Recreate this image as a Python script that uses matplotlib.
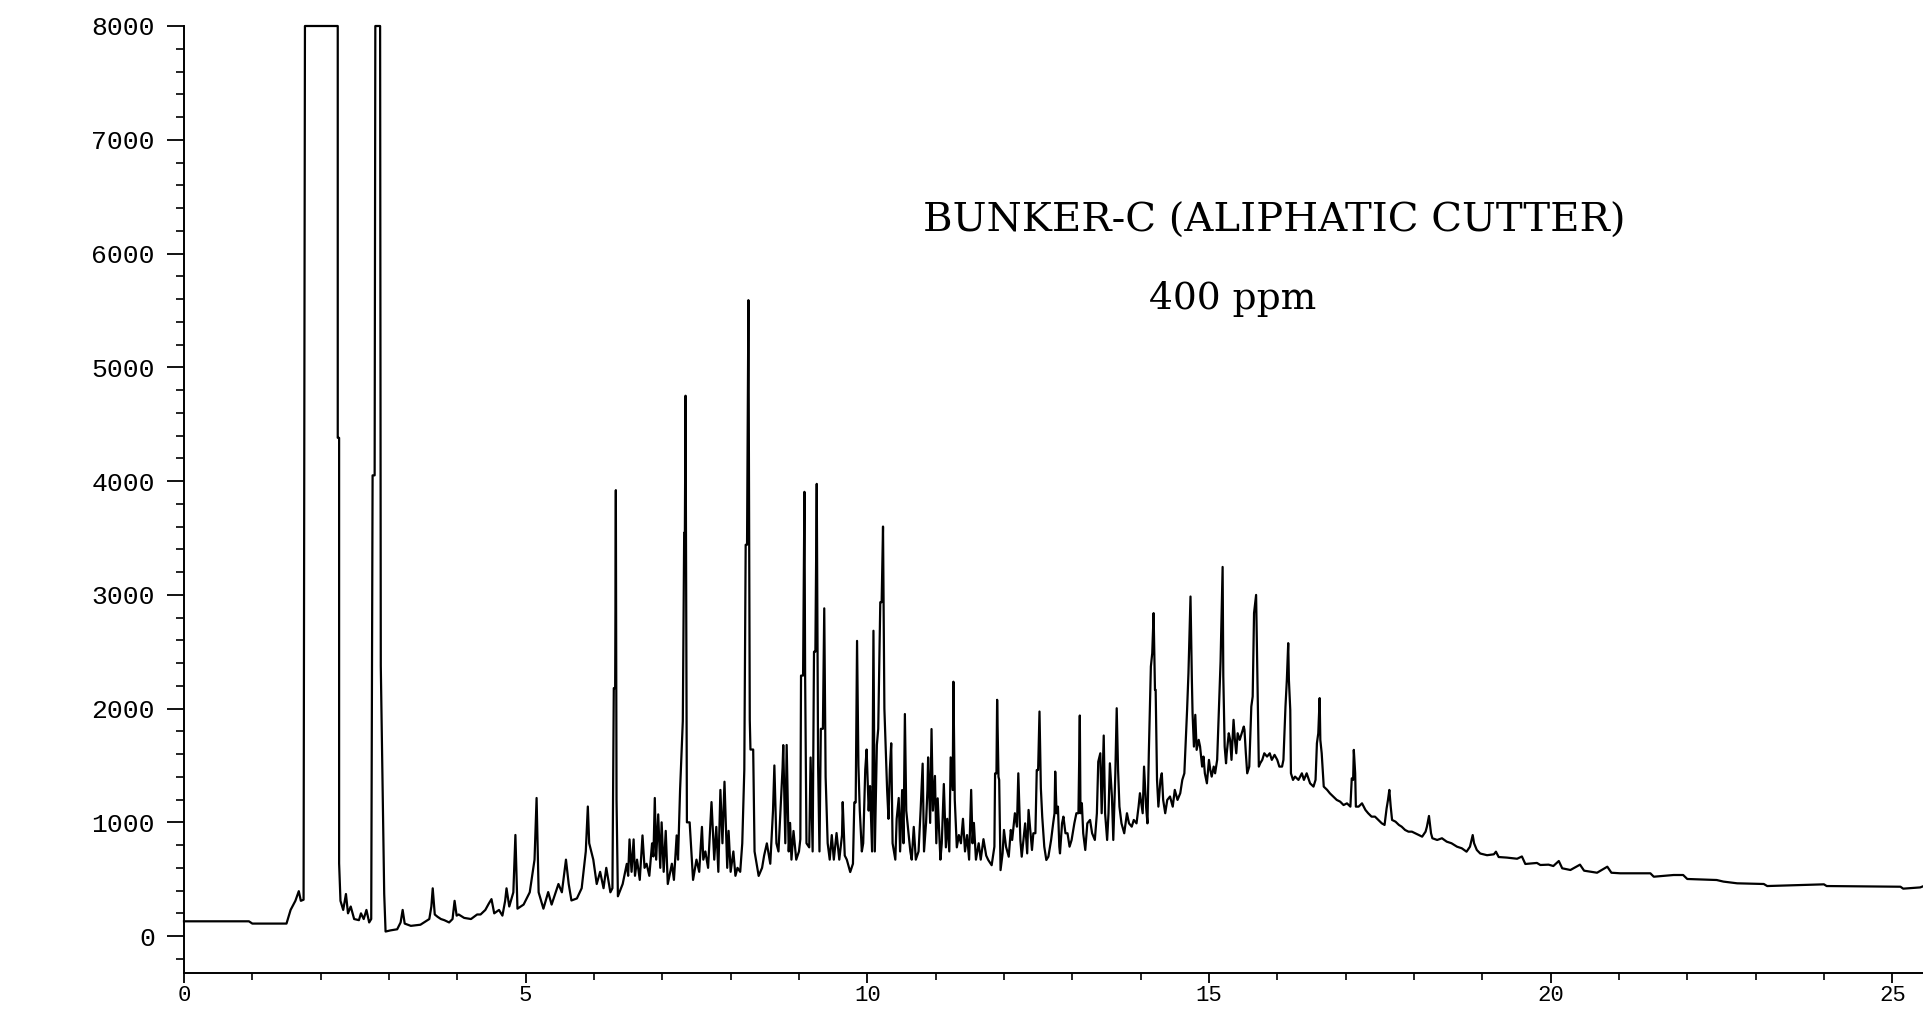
import numpy as np
import matplotlib
matplotlib.use("Agg")
import matplotlib.pyplot as plt
from matplotlib.ticker import MultipleLocator

plt.rcParams['font.family'] = ['Liberation Mono', 'DejaVu Sans']

## trace: (retention time [min], response) ##

# solvent block, clipped at full scale
seg_solvent = [(0.00, 130), (0.95, 130), (1.00, 110), (1.50, 110), (1.56, 230), (1.63, 310),
               (1.68, 395), (1.71, 310), (1.75, 320), (1.77, 8000), (2.25, 8000), (2.25, 4380),
               (2.27, 4380), (2.27, 640), (2.29, 310), (2.33, 230), (2.37, 370), (2.40, 200),
               (2.44, 260), (2.49, 150), (2.56, 140), (2.59, 200), (2.63, 150), (2.67, 230),
               (2.71, 120), (2.74, 150), (2.76, 4050), (2.79, 4050), (2.80, 8000), (2.87, 8000),
               (2.88, 2375), (2.90, 1580), (2.93, 370), (2.95, 40)]

seg_early = [(3.02, 50), (3.12, 60), (3.17, 120), (3.20, 230), (3.23, 110), (3.32, 90),
             (3.46, 100), (3.59, 150), (3.62, 260), (3.64, 420), (3.67, 190), (3.71, 170),
             (3.76, 150), (3.81, 140), (3.88, 120), (3.93, 150), (3.96, 310), (3.99, 180),
             (4.02, 190), (4.10, 160), (4.20, 150), (4.29, 190), (4.34, 190), (4.41, 230),
             (4.46, 285), (4.50, 325), (4.54, 200), (4.61, 230), (4.66, 180), (4.70, 310),
             (4.72, 420), (4.76, 260), (4.82, 385)]

seg_c1 = [(4.85, 889), (4.88, 241), (4.97, 277), (5.06, 385), (5.13, 672), (5.16, 1214),
          (5.19, 385), (5.26, 241), (5.33, 387), (5.38, 277), (5.48, 458), (5.53, 385),
          (5.59, 672), (5.63, 458), (5.67, 313), (5.75, 331), (5.82, 421), (5.88, 744),
          (5.91, 1139), (5.93, 816), (5.99, 672), (6.04, 458), (6.09, 565), (6.14, 421),
          (6.18, 600), (6.24, 385), (6.27, 421), (6.29, 2180), (6.31, 2180), (6.32, 3920),
          (6.33, 1200), (6.35, 350)]

seg_c2 = [(6.42, 458), (6.48, 635), (6.50, 530), (6.52, 850), (6.55, 565), (6.58, 850),
          (6.60, 530), (6.63, 672), (6.67, 494), (6.71, 885), (6.74, 600), (6.77, 636),
          (6.81, 530), (6.85, 815), (6.87, 700), (6.89, 1214), (6.91, 672), (6.94, 1070),
          (6.97, 600), (6.99, 1000), (7.02, 565), (7.05, 925), (7.08, 458), (7.14, 636),
          (7.17, 494), (7.21, 885), (7.23, 672), (7.26, 1285), (7.30, 1890), (7.32, 3546),
          (7.33, 3546), (7.34, 4750), (7.36, 1000), (7.40, 1000), (7.45, 494), (7.50, 672),
          (7.54, 565), (7.58, 960), (7.60, 672), (7.63, 744), (7.67, 600), (7.72, 1178),
          (7.76, 672), (7.79, 960), (7.82, 565), (7.85, 1285), (7.88, 816), (7.91, 1357),
          (7.95, 600), (7.97, 925), (8.00, 565), (8.04, 744), (8.07, 530), (8.10, 600),
          (8.14, 565), (8.17, 815), (8.20, 1463), (8.22, 3440), (8.24, 3440), (8.26, 5590),
          (8.28, 1900), (8.29, 1640), (8.33, 1640), (8.35, 744)]

seg_c3 = [(8.37, 672), (8.41, 529), (8.46, 600), (8.49, 708), (8.53, 815), (8.58, 636),
          (8.62, 1103), (8.64, 1500), (8.67, 816), (8.70, 744), (8.72, 995), (8.76, 1480),
          (8.77, 1679), (8.80, 816), (8.82, 1680), (8.85, 744), (8.87, 995), (8.89, 672),
          (8.92, 924), (8.96, 672), (9.00, 744), (9.02, 852), (9.03, 2290), (9.06, 2290),
          (9.08, 3905), (9.09, 2300), (9.11, 816), (9.15, 780), (9.17, 1570), (9.20, 744),
          (9.22, 2500), (9.24, 2500), (9.26, 3975), (9.28, 1500), (9.30, 744), (9.32, 1822),
          (9.35, 1822), (9.37, 2881), (9.39, 1400), (9.42, 816), (9.45, 672), (9.48, 888),
          (9.51, 672), (9.55, 906), (9.59, 672), (9.63, 888), (9.64, 1178), (9.67, 708),
          (9.70, 672), (9.75, 563), (9.79, 636), (9.81, 1175), (9.83, 1175), (9.85, 2595),
          (9.87, 1500), (9.89, 1103), (9.92, 744), (9.94, 816), (9.97, 1463), (9.99, 1640),
          (10.02, 1103), (10.04, 1319), (10.07, 744), (10.09, 2684), (10.11, 744), (10.14, 1680),
          (10.16, 1822), (10.19, 2935), (10.21, 2935), (10.23, 3600), (10.25, 2000), (10.26, 1822),
          (10.29, 1284), (10.31, 1031)]

seg_c4 = [(10.33, 1463), (10.35, 1695), (10.37, 816), (10.41, 672), (10.43, 1031), (10.46, 1214),
          (10.48, 744), (10.51, 1284), (10.53, 816), (10.55, 1952), (10.57, 1103), (10.60, 924),
          (10.63, 744), (10.65, 672), (10.68, 960), (10.71, 672), (10.75, 744), (10.78, 1103),
          (10.81, 1516), (10.83, 744), (10.86, 995), (10.88, 1284), (10.89, 1571), (10.92, 995),
          (10.94, 1820), (10.96, 1103), (10.99, 1408), (11.01, 816), (11.03, 1211), (11.07, 672),
          (11.09, 816), (11.12, 1337), (11.15, 780), (11.17, 1031), (11.20, 744), (11.22, 1571),
          (11.25, 1284), (11.26, 2236), (11.28, 1200), (11.31, 780), (11.34, 888), (11.37, 816),
          (11.40, 1031), (11.43, 744), (11.46, 888), (11.49, 672), (11.52, 1285), (11.54, 816),
          (11.56, 995), (11.59, 672), (11.63, 816), (11.66, 672), (11.70, 852), (11.74, 708),
          (11.77, 669), (11.82, 623), (11.86, 786), (11.87, 1430), (11.89, 1430), (11.90, 2077),
          (11.92, 1400), (11.93, 1373), (11.95, 580)]

seg_c5 = [(11.98, 727), (12.00, 933), (12.03, 786), (12.07, 698), (12.10, 933), (12.12, 845),
          (12.16, 1080), (12.19, 962), (12.21, 1431), (12.24, 845), (12.26, 698), (12.29, 874),
          (12.31, 991), (12.34, 727), (12.36, 1109), (12.39, 904), (12.41, 757), (12.43, 904),
          (12.46, 904), (12.48, 1460), (12.50, 1460), (12.52, 1974), (12.54, 1300), (12.56, 1050),
          (12.59, 786), (12.62, 669), (12.65, 698), (12.69, 845), (12.72, 991), (12.74, 1080),
          (12.75, 1446), (12.77, 1080), (12.79, 1138), (12.81, 786), (12.82, 727), (12.85, 991),
          (12.87, 1050), (12.90, 904), (12.93, 904), (12.96, 786), (12.99, 845), (13.03, 991),
          (13.06, 1080), (13.09, 1080), (13.11, 1939), (13.12, 1080), (13.14, 1168), (13.16, 904),
          (13.19, 757), (13.22, 991), (13.26, 1021), (13.29, 904), (13.33, 845), (13.36, 1080),
          (13.38, 1533), (13.41, 1607), (13.43, 1080), (13.46, 1763), (13.48, 1080), (13.51, 845),
          (13.53, 1080), (13.55, 1519), (13.58, 1227), (13.60, 845), (13.63, 1431), (13.65, 2003),
          (13.67, 1460), (13.69, 1138), (13.72, 991), (13.76, 904), (13.80, 1080), (13.83, 991),
          (13.87, 962), (13.90, 1021), (13.94, 991), (13.97, 1138), (13.99, 1256), (14.03, 1080),
          (14.05, 1490), (14.08, 1138), (14.10, 991), (14.12, 1607), (14.15, 2370), (14.17, 2487),
          (14.19, 2839), (14.21, 2165), (14.22, 2165), (14.24, 1373), (14.26, 1138), (14.29, 1373),
          (14.31, 1431), (14.33, 1197), (14.36, 1080), (14.39, 1197), (14.43, 1227), (14.47, 1138),
          (14.50, 1285), (14.54, 1197), (14.58, 1256), (14.61, 1373), (14.64, 1431), (14.68, 1988),
          (14.70, 2311), (14.73, 2985), (14.75, 2253), (14.76, 1960), (14.78, 1666), (14.80, 1945),
          (14.82, 1637), (14.85, 1725), (14.87, 1666), (14.90, 1490), (14.92, 1578), (14.94, 1431),
          (14.97, 1343), (15.00, 1549), (15.02, 1460), (15.04, 1402), (15.07, 1490), (15.09, 1431),
          (15.12, 1549), (15.14, 1901), (15.17, 2414), (15.20, 3245), (15.21, 2283), (15.23, 1666),
          (15.25, 1519), (15.26, 1607), (15.29, 1783), (15.31, 1725), (15.33, 1549), (15.36, 1901),
          (15.38, 1725)]

seg_hump = [(15.40, 1607), (15.42, 1783), (15.45, 1725), (15.48, 1783), (15.51, 1842), (15.52, 1812),
            (15.54, 1607), (15.56, 1431), (15.59, 1490), (15.62, 2018), (15.64, 2106), (15.66, 2840),
            (15.69, 2999), (15.71, 2253), (15.73, 1490), (15.75, 1519), (15.78, 1549), (15.81, 1607),
            (15.85, 1578), (15.89, 1607), (15.92, 1549), (15.96, 1593), (16.00, 1549), (16.03, 1490),
            (16.07, 1490), (16.09, 1549), (16.12, 2018), (16.14, 2253), (16.16, 2575), (16.17, 2253),
            (16.19, 1988), (16.20, 1431), (16.23, 1373), (16.26, 1402), (16.31, 1373), (16.36, 1431),
            (16.39, 1373), (16.43, 1431), (16.48, 1343), (16.53, 1314), (16.56, 1373), (16.58, 1695),
            (16.60, 1783), (16.62, 2092), (16.63, 1725), (16.65, 1607), (16.68, 1314), (16.73, 1285),
            (16.77, 1255), (16.82, 1226), (16.87, 1197), (16.92, 1182), (16.97, 1152), (17.02, 1167),
            (17.07, 1138), (17.09, 1387), (17.11, 1373), (17.12, 1637), (17.14, 1431), (17.15, 1138),
            (17.19, 1138), (17.24, 1167), (17.29, 1109), (17.33, 1080), (17.38, 1050), (17.43, 1050),
            (17.48, 1021), (17.53, 991), (17.57, 977), (17.60, 1123), (17.62, 1196), (17.64, 1285),
            (17.66, 1138), (17.68, 1021), (17.73, 1006), (17.78, 977), (17.82, 962), (17.87, 933),
            (17.92, 918), (17.97, 918), (18.02, 904), (18.07, 889), (18.12, 874), (18.17, 918),
            (18.19, 962), (18.22, 1056), (18.25, 904), (18.27, 860), (18.34, 845), (18.41, 860),
            (18.48, 830), (18.55, 816), (18.63, 786), (18.70, 772), (18.77, 742), (18.82, 786),
            (18.86, 888), (18.88, 816), (18.92, 757)]

seg_tail = [(18.97, 726), (19.07, 711), (19.17, 719), (19.20, 742), (19.24, 695), (19.36, 690),
            (19.51, 680), (19.58, 700), (19.63, 634), (19.80, 643), (19.85, 625), (19.97, 628),
            (20.04, 616), (20.12, 660), (20.17, 596), (20.29, 581), (20.43, 628), (20.49, 575),
            (20.68, 557), (20.83, 610), (20.89, 557), (21.02, 552), (21.46, 552), (21.51, 522),
            (21.80, 537), (21.94, 537), (22.00, 502), (22.43, 493), (22.53, 479), (22.73, 464),
            (23.12, 458), (23.17, 440), (24.00, 455), (24.04, 440), (25.12, 434), (25.16, 417),
            (25.41, 428), (25.46, 440)]

y_ticks = [0, 1000, 2000, 3000, 4000, 5000, 6000, 7000, 8000]
x_ticks = [0, 5, 10, 15, 20, 25]
title = "BUNKER-C (ALIPHATIC CUTTER)"
subtitle = "400 ppm"

trace = np.array(seg_solvent + seg_early + seg_c1 + seg_c2 + seg_c3 + seg_c4 + seg_c5
                 + seg_hump + seg_tail)
rt = trace[:, 0]
signal = trace[:, 1]

fig = plt.figure(figsize=(19.23, 10.13), dpi=100)
ax = fig.add_axes([184 / 1923, 40.5 / 1013, 1 - 184 / 1923, (987 - 40.5) / 1013])

ax.plot(rt, signal, color="black", lw=1.6, clip_on=False)

ax.set_xlim(0, 25.45)
ax.set_ylim(-320, 8000)

for side in ["top", "right"]:
    ax.spines[side].set_visible(False)
for side in ["left", "bottom"]:
    ax.spines[side].set_linewidth(1.4)

ax.set_xticks(x_ticks)
ax.set_xticklabels([str(v) for v in x_ticks])
ax.set_yticks(y_ticks)
ax.set_yticklabels([str(v) for v in y_ticks])
ax.xaxis.set_minor_locator(MultipleLocator(1))
ax.yaxis.set_minor_locator(MultipleLocator(200))

ax.tick_params(axis="y", which="major", length=12, width=1.3, pad=9, labelsize=19)
ax.tick_params(axis="y", which="minor", length=6, width=1.2)
ax.tick_params(axis="x", which="major", length=7, width=1.3, pad=2, labelsize=16)
ax.tick_params(axis="x", which="minor", length=5, width=1.2)

ax.text(15.95, 6283, title, ha="center", va="center", fontsize=29, family="DejaVu Serif")
ax.text(15.35, 5597, subtitle, ha="center", va="center", fontsize=27, family="DejaVu Serif")

fig.savefig("out.png", dpi=100)
